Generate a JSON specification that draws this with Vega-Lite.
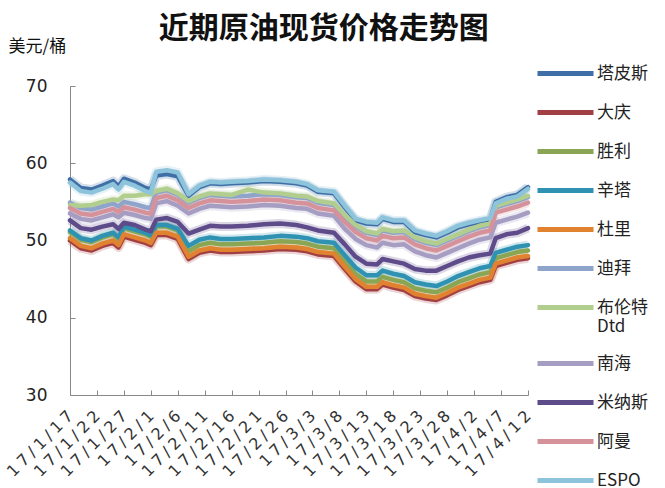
{
  "$schema": "https://vega.github.io/schema/vega-lite/v6.json",
  "autosize": {"type": "none"},
  "width": 458,
  "height": 309,
  "padding": {"left": 70, "top": 86, "right": 137, "bottom": 93},
  "background": "white",
  "title": {
    "text": "近期原油现货价格走势图",
    "font": "Noto Sans CJK SC",
    "fontSize": 30,
    "fontWeight": "bold",
    "color": "#111",
    "anchor": "start",
    "dx": 155,
    "dy": 13,
    "offset": 6
  },
  "data": {
    "values": [
      {"d": "2017/01/17", "塔皮斯": 57.9, "大庆": 50.0, "胜利": 51.1, "辛塔": 51.3, "杜里": 50.3, "迪拜": 54.9, "布伦特Dtd": 54.6, "南海": 53.5, "米纳斯": 52.6, "阿曼": 54.2, "ESPO": 57.5},
      {"d": "2017/01/19", "塔皮斯": 56.8, "大庆": 49.0, "胜利": 50.1, "辛塔": 50.3, "杜里": 49.3, "迪拜": 54.2, "布伦特Dtd": 54.5, "南海": 52.8, "米纳斯": 51.6, "阿曼": 53.5, "ESPO": 56.4},
      {"d": "2017/01/21", "塔皮斯": 56.6, "大庆": 48.7, "胜利": 49.8, "辛塔": 50.0, "杜里": 49.0, "迪拜": 54.0, "布伦特Dtd": 54.6, "南海": 52.6, "米纳斯": 51.4, "阿曼": 53.3, "ESPO": 56.2},
      {"d": "2017/01/23", "塔皮斯": 57.1, "大庆": 49.3, "胜利": 50.4, "辛塔": 50.6, "杜里": 49.6, "迪拜": 54.4, "布伦特Dtd": 55.0, "南海": 53.0, "米纳斯": 51.8, "阿曼": 53.7, "ESPO": 56.7},
      {"d": "2017/01/25", "塔皮斯": 57.7, "大庆": 49.7, "胜利": 50.8, "辛塔": 51.0, "杜里": 50.0, "迪拜": 54.8, "布伦特Dtd": 55.3, "南海": 53.4, "米纳斯": 52.1, "阿曼": 54.1, "ESPO": 57.3},
      {"d": "2017/01/26", "塔皮斯": 57.0, "大庆": 49.1, "胜利": 50.2, "辛塔": 50.4, "杜里": 49.4, "迪拜": 54.4, "布伦特Dtd": 55.2, "南海": 53.0, "米纳斯": 51.5, "阿曼": 53.7, "ESPO": 56.6},
      {"d": "2017/01/27", "塔皮斯": 58.0, "大庆": 50.5, "胜利": 51.6, "辛塔": 51.8, "杜里": 50.8, "迪拜": 55.0, "布伦特Dtd": 55.8, "南海": 53.6, "米纳斯": 52.3, "阿曼": 54.3, "ESPO": 57.6},
      {"d": "2017/01/29", "塔皮斯": 57.5, "大庆": 50.1, "胜利": 51.2, "辛塔": 51.4, "杜里": 50.4, "迪拜": 54.7, "布伦特Dtd": 55.8, "南海": 53.3, "米纳斯": 52.0, "阿曼": 54.0, "ESPO": 57.1},
      {"d": "2017/01/31", "塔皮斯": 56.8, "大庆": 49.7, "胜利": 50.8, "辛塔": 51.0, "杜里": 50.0, "迪拜": 54.3, "布伦特Dtd": 56.0, "南海": 52.9, "米纳斯": 51.4, "阿曼": 53.6, "ESPO": 56.4},
      {"d": "2017/02/01", "塔皮斯": 56.6, "大庆": 49.4, "胜利": 50.5, "辛塔": 50.7, "杜里": 49.7, "迪拜": 54.2, "布伦特Dtd": 56.0, "南海": 52.8, "米纳斯": 51.2, "阿曼": 53.5, "ESPO": 56.2},
      {"d": "2017/02/02", "塔皮斯": 58.4, "大庆": 50.7, "胜利": 51.8, "辛塔": 52.0, "杜里": 51.0, "迪拜": 56.2, "布伦特Dtd": 56.4, "南海": 54.8, "米纳斯": 52.7, "阿曼": 55.5, "ESPO": 58.9},
      {"d": "2017/02/04", "塔皮斯": 58.6, "大庆": 50.7, "胜利": 51.8, "辛塔": 52.0, "杜里": 51.0, "迪拜": 56.5, "布伦特Dtd": 56.7, "南海": 55.1, "米纳斯": 52.9, "阿曼": 55.8, "ESPO": 59.1},
      {"d": "2017/02/06", "塔皮斯": 58.3, "大庆": 50.2, "胜利": 51.3, "辛塔": 51.5, "杜里": 50.5, "迪拜": 55.9, "布伦特Dtd": 56.1, "南海": 54.5, "米纳斯": 52.4, "阿曼": 55.2, "ESPO": 58.8},
      {"d": "2017/02/08", "塔皮斯": 55.8, "大庆": 47.6, "胜利": 48.6, "辛塔": 49.3, "杜里": 47.9, "迪拜": 54.9, "布伦特Dtd": 55.1, "南海": 53.5, "米纳斯": 50.9, "阿曼": 54.2, "ESPO": 56.0},
      {"d": "2017/02/10", "塔皮斯": 56.9, "大庆": 48.4, "胜利": 49.4, "辛塔": 50.1, "杜里": 48.7, "迪拜": 55.5, "布伦特Dtd": 55.7, "南海": 54.1, "米纳斯": 51.4, "阿曼": 54.8, "ESPO": 57.1},
      {"d": "2017/02/12", "塔皮斯": 57.4, "大庆": 48.7, "胜利": 49.7, "辛塔": 50.4, "杜里": 49.0, "迪拜": 55.9, "布伦特Dtd": 56.1, "南海": 54.5, "米纳斯": 51.9, "阿曼": 55.2, "ESPO": 57.6},
      {"d": "2017/02/14", "塔皮斯": 57.3, "大庆": 48.5, "胜利": 49.5, "辛塔": 50.2, "杜里": 48.8, "迪拜": 55.8, "布伦特Dtd": 56.0, "南海": 54.4, "米纳斯": 51.8, "阿曼": 55.1, "ESPO": 57.5},
      {"d": "2017/02/16", "塔皮斯": 57.4, "大庆": 48.5, "胜利": 49.5, "辛塔": 50.2, "杜里": 48.8, "迪拜": 55.7, "布伦特Dtd": 55.9, "南海": 54.3, "米纳斯": 51.8, "阿曼": 55.0, "ESPO": 57.6},
      {"d": "2017/02/19", "塔皮斯": 57.5, "大庆": 48.6, "胜利": 49.6, "辛塔": 50.3, "杜里": 48.9, "迪拜": 55.8, "布伦特Dtd": 56.6, "南海": 54.4, "米纳斯": 51.9, "阿曼": 55.1, "ESPO": 57.7},
      {"d": "2017/02/22", "塔皮斯": 57.7, "大庆": 48.7, "胜利": 49.7, "辛塔": 50.4, "杜里": 49.0, "迪拜": 56.0, "布伦特Dtd": 56.2, "南海": 54.6, "米纳斯": 52.1, "阿曼": 55.3, "ESPO": 57.9},
      {"d": "2017/02/25", "塔皮斯": 57.6, "大庆": 48.9, "胜利": 49.9, "辛塔": 50.6, "杜里": 49.2, "迪拜": 55.9, "布伦特Dtd": 56.1, "南海": 54.5, "米纳斯": 52.2, "阿曼": 55.2, "ESPO": 57.8},
      {"d": "2017/02/28", "塔皮斯": 57.4, "大庆": 48.8, "胜利": 49.8, "辛塔": 50.5, "杜里": 49.1, "迪拜": 55.6, "布伦特Dtd": 55.8, "南海": 54.2, "米纳斯": 52.0, "阿曼": 54.9, "ESPO": 57.6},
      {"d": "2017/03/02", "塔皮斯": 57.1, "大庆": 48.6, "胜利": 49.6, "辛塔": 50.3, "杜里": 48.9, "迪拜": 55.5, "布伦特Dtd": 55.7, "南海": 54.1, "米纳斯": 51.7, "阿曼": 54.8, "ESPO": 57.3},
      {"d": "2017/03/04", "塔皮斯": 56.3, "大庆": 48.2, "胜利": 49.2, "辛塔": 49.9, "杜里": 48.5, "迪拜": 54.9, "布伦特Dtd": 55.1, "南海": 53.5, "米纳斯": 51.3, "阿曼": 54.2, "ESPO": 56.5},
      {"d": "2017/03/07", "塔皮斯": 56.1, "大庆": 48.0, "胜利": 49.0, "辛塔": 49.7, "杜里": 48.3, "迪拜": 54.6, "布伦特Dtd": 54.8, "南海": 53.2, "米纳斯": 51.0, "阿曼": 53.9, "ESPO": 56.3},
      {"d": "2017/03/09", "塔皮斯": 54.3, "大庆": 46.3, "胜利": 47.3, "辛塔": 48.1, "杜里": 46.6, "迪拜": 53.1, "布伦特Dtd": 53.3, "南海": 51.5, "米纳斯": 49.5, "阿曼": 52.4, "ESPO": 54.5},
      {"d": "2017/03/11", "塔皮斯": 52.6, "大庆": 44.7, "胜利": 45.7, "辛塔": 46.5, "杜里": 45.0, "迪拜": 51.8, "布伦特Dtd": 52.0, "南海": 50.2, "米纳斯": 47.9, "阿曼": 51.1, "ESPO": 52.8},
      {"d": "2017/03/13", "塔皮斯": 52.2, "大庆": 43.7, "胜利": 44.7, "辛塔": 45.5, "杜里": 44.0, "迪拜": 51.0, "布伦特Dtd": 51.2, "南海": 49.4, "米纳斯": 47.0, "阿曼": 50.3, "ESPO": 52.4},
      {"d": "2017/03/15", "塔皮斯": 52.1, "大庆": 43.7, "胜利": 44.7, "辛塔": 45.5, "杜里": 44.0, "迪拜": 50.7, "布伦特Dtd": 50.9, "南海": 49.1, "米纳斯": 46.9, "阿曼": 50.0, "ESPO": 52.3},
      {"d": "2017/03/16", "塔皮斯": 52.8, "大庆": 44.3, "胜利": 45.3, "辛塔": 46.1, "杜里": 44.6, "迪拜": 51.3, "布伦特Dtd": 51.5, "南海": 49.7, "米纳斯": 47.6, "阿曼": 50.6, "ESPO": 53.0},
      {"d": "2017/03/18", "塔皮斯": 52.4, "大庆": 43.9, "胜利": 44.9, "辛塔": 45.7, "杜里": 44.2, "迪拜": 51.0, "布伦特Dtd": 51.2, "南海": 49.4, "米纳斯": 47.3, "阿曼": 50.3, "ESPO": 52.6},
      {"d": "2017/03/20", "塔皮斯": 52.4, "大庆": 43.6, "胜利": 44.6, "辛塔": 45.4, "杜里": 43.9, "迪拜": 51.1, "布伦特Dtd": 51.3, "南海": 49.5, "米纳斯": 47.0, "阿曼": 50.4, "ESPO": 52.6},
      {"d": "2017/03/22", "塔皮斯": 51.1, "大庆": 42.8, "胜利": 43.8, "辛塔": 44.6, "杜里": 43.1, "迪拜": 50.2, "布伦特Dtd": 50.4, "南海": 48.6, "米纳斯": 46.3, "阿曼": 49.5, "ESPO": 51.3},
      {"d": "2017/03/24", "塔皮斯": 50.7, "大庆": 42.5, "胜利": 43.5, "辛塔": 44.3, "杜里": 42.8, "迪拜": 49.7, "布伦特Dtd": 49.9, "南海": 48.1, "米纳斯": 46.1, "阿曼": 49.0, "ESPO": 50.9},
      {"d": "2017/03/26", "塔皮斯": 50.4, "大庆": 42.3, "胜利": 43.3, "辛塔": 44.1, "杜里": 42.6, "迪拜": 49.4, "布伦特Dtd": 49.6, "南海": 47.8, "米纳斯": 46.1, "阿曼": 48.7, "ESPO": 50.6},
      {"d": "2017/03/28", "塔皮斯": 51.0, "大庆": 42.9, "胜利": 43.9, "辛塔": 44.7, "杜里": 43.2, "迪拜": 50.0, "布伦特Dtd": 50.2, "南海": 48.4, "米纳斯": 46.7, "阿曼": 49.3, "ESPO": 51.2},
      {"d": "2017/03/30", "塔皮斯": 51.7, "大庆": 43.6, "胜利": 44.6, "辛塔": 45.4, "杜里": 43.9, "迪拜": 50.6, "布伦特Dtd": 50.8, "南海": 49.0, "米纳斯": 47.3, "阿曼": 49.9, "ESPO": 51.9},
      {"d": "2017/04/01", "塔皮斯": 52.1, "大庆": 44.1, "胜利": 45.1, "辛塔": 45.9, "杜里": 44.4, "迪拜": 51.2, "布伦特Dtd": 51.4, "南海": 49.6, "米纳斯": 47.8, "阿曼": 50.5, "ESPO": 52.3},
      {"d": "2017/04/03", "塔皮斯": 52.4, "大庆": 44.6, "胜利": 45.6, "辛塔": 46.4, "杜里": 44.9, "迪拜": 51.7, "布伦特Dtd": 51.9, "南海": 50.1, "米纳斯": 48.1, "阿曼": 51.0, "ESPO": 52.6},
      {"d": "2017/04/05", "塔皮斯": 52.7, "大庆": 44.9, "胜利": 45.9, "辛塔": 46.7, "杜里": 45.2, "迪拜": 52.0, "布伦特Dtd": 52.2, "南海": 50.4, "米纳斯": 48.3, "阿曼": 51.3, "ESPO": 52.9},
      {"d": "2017/04/06", "塔皮斯": 55.0, "大庆": 46.7, "胜利": 47.7, "辛塔": 48.4, "杜里": 47.0, "迪拜": 54.3, "布伦特Dtd": 54.5, "南海": 52.3, "米纳斯": 50.3, "阿曼": 53.6, "ESPO": 54.8},
      {"d": "2017/04/08", "塔皮斯": 55.6, "大庆": 47.1, "胜利": 48.1, "辛塔": 48.8, "杜里": 47.4, "迪拜": 54.7, "布伦特Dtd": 54.9, "南海": 52.7, "米纳斯": 50.8, "阿曼": 54.0, "ESPO": 55.4},
      {"d": "2017/04/10", "塔皮斯": 55.9, "大庆": 47.5, "胜利": 48.5, "辛塔": 49.2, "杜里": 47.8, "迪拜": 55.1, "布伦特Dtd": 55.3, "南海": 53.1, "米纳斯": 51.0, "阿曼": 54.4, "ESPO": 55.7},
      {"d": "2017/04/12", "塔皮斯": 56.9, "大庆": 47.7, "胜利": 48.7, "辛塔": 49.4, "杜里": 48.0, "迪拜": 55.6, "布伦特Dtd": 55.8, "南海": 53.6, "米纳斯": 51.6, "阿曼": 54.9, "ESPO": 56.7}
    ]
  },
  "transform": [
    {"fold": ["塔皮斯", "大庆", "胜利", "辛塔", "杜里", "迪拜", "布伦特Dtd", "南海", "米纳斯", "阿曼", "ESPO"], "as": ["品种", "价格"]}
  ],
  "encoding": {
    "x": {
      "field": "d",
      "type": "temporal",
      "scale": {"nice": false},
      "axis": {
        "title": null,
        "values": [
          {"year": 2017, "month": 1, "date": 17}, {"year": 2017, "month": 1, "date": 22},
          {"year": 2017, "month": 1, "date": 27}, {"year": 2017, "month": 2, "date": 1},
          {"year": 2017, "month": 2, "date": 6}, {"year": 2017, "month": 2, "date": 11},
          {"year": 2017, "month": 2, "date": 16}, {"year": 2017, "month": 2, "date": 21},
          {"year": 2017, "month": 2, "date": 26}, {"year": 2017, "month": 3, "date": 3},
          {"year": 2017, "month": 3, "date": 8}, {"year": 2017, "month": 3, "date": 13},
          {"year": 2017, "month": 3, "date": 18}, {"year": 2017, "month": 3, "date": 23},
          {"year": 2017, "month": 3, "date": 28}, {"year": 2017, "month": 4, "date": 2},
          {"year": 2017, "month": 4, "date": 7}, {"year": 2017, "month": 4, "date": 12}
        ],
        "labelExpr": "join(split(timeFormat(datum.value, '%y/%-m/%-d'), ''), '\u2005')",
        "labelAngle": -45,
        "labelAlign": "right",
        "labelBaseline": "middle",
        "labelFont": "DejaVu Sans",
        "labelFontSize": 16,
        "labelColor": "#333",
        "labelPadding": 23,
        "labelOverlap": false,
        "labelFlush": false,
        "labelBound": false,
        "tickSize": -5,
        "tickColor": "#888",
        "domainColor": "#888",
        "grid": false
      }
    },
    "y": {
      "field": "价格",
      "type": "quantitative",
      "scale": {"domain": [30, 70], "nice": false, "zero": false},
      "axis": {
        "title": "美元/桶",
        "titleAngle": 0,
        "titleAlign": "left",
        "titleBaseline": "middle",
        "titleX": -62,
        "titleY": -40,
        "titleFont": "Noto Sans CJK SC",
        "titleFontSize": 17,
        "titleFontWeight": "normal",
        "titleColor": "#111",
        "values": [30, 40, 50, 60, 70],
        "labelFont": "DejaVu Sans",
        "labelFontSize": 17,
        "labelColor": "#222",
        "labelPadding": 28,
        "tickSize": -5,
        "tickColor": "#888",
        "domainColor": "#888",
        "grid": false
      }
    },
    "color": {
      "field": "品种",
      "type": "nominal",
      "scale": {
        "domain": ["塔皮斯", "大庆", "胜利", "辛塔", "杜里", "迪拜", "布伦特Dtd", "南海", "米纳斯", "阿曼", "ESPO"],
        "range": ["#3f6fa6", "#a23f45", "#8aa654", "#2f92b2", "#e0822f", "#8fa4cb", "#b2ce8e", "#a69dc2", "#5e4b8a", "#d6929b", "#8dc3db"]
      },
      "legend": {
        "orient": "none",
        "legendX": 486,
        "legendY": -22,
        "title": null,
        "symbolType": "M-4,0H4",
        "symbolSize": 196,
        "symbolStrokeWidth": 5,
        "symbolOpacity": 1,
        "labelFont": "Noto Sans CJK SC",
        "labelFontSize": 17,
        "labelColor": "#222",
        "labelOffset": 22,
        "labelLimit": 200,
        "labelExpr": "datum.label == '布伦特Dtd' ? ['布伦特', 'Dtd'] : datum.label",
        "rowPadding": 18,
        "padding": 0
      }
    }
  },
  "layer": [
    {"mark": {"type": "line", "strokeWidth": 9, "opacity": 0.22, "strokeJoin": "round"}},
    {"mark": {"type": "line", "strokeWidth": 4.5, "strokeJoin": "round", "strokeCap": "round"}}
  ],
  "config": {
    "view": {"stroke": null}
  }
}
